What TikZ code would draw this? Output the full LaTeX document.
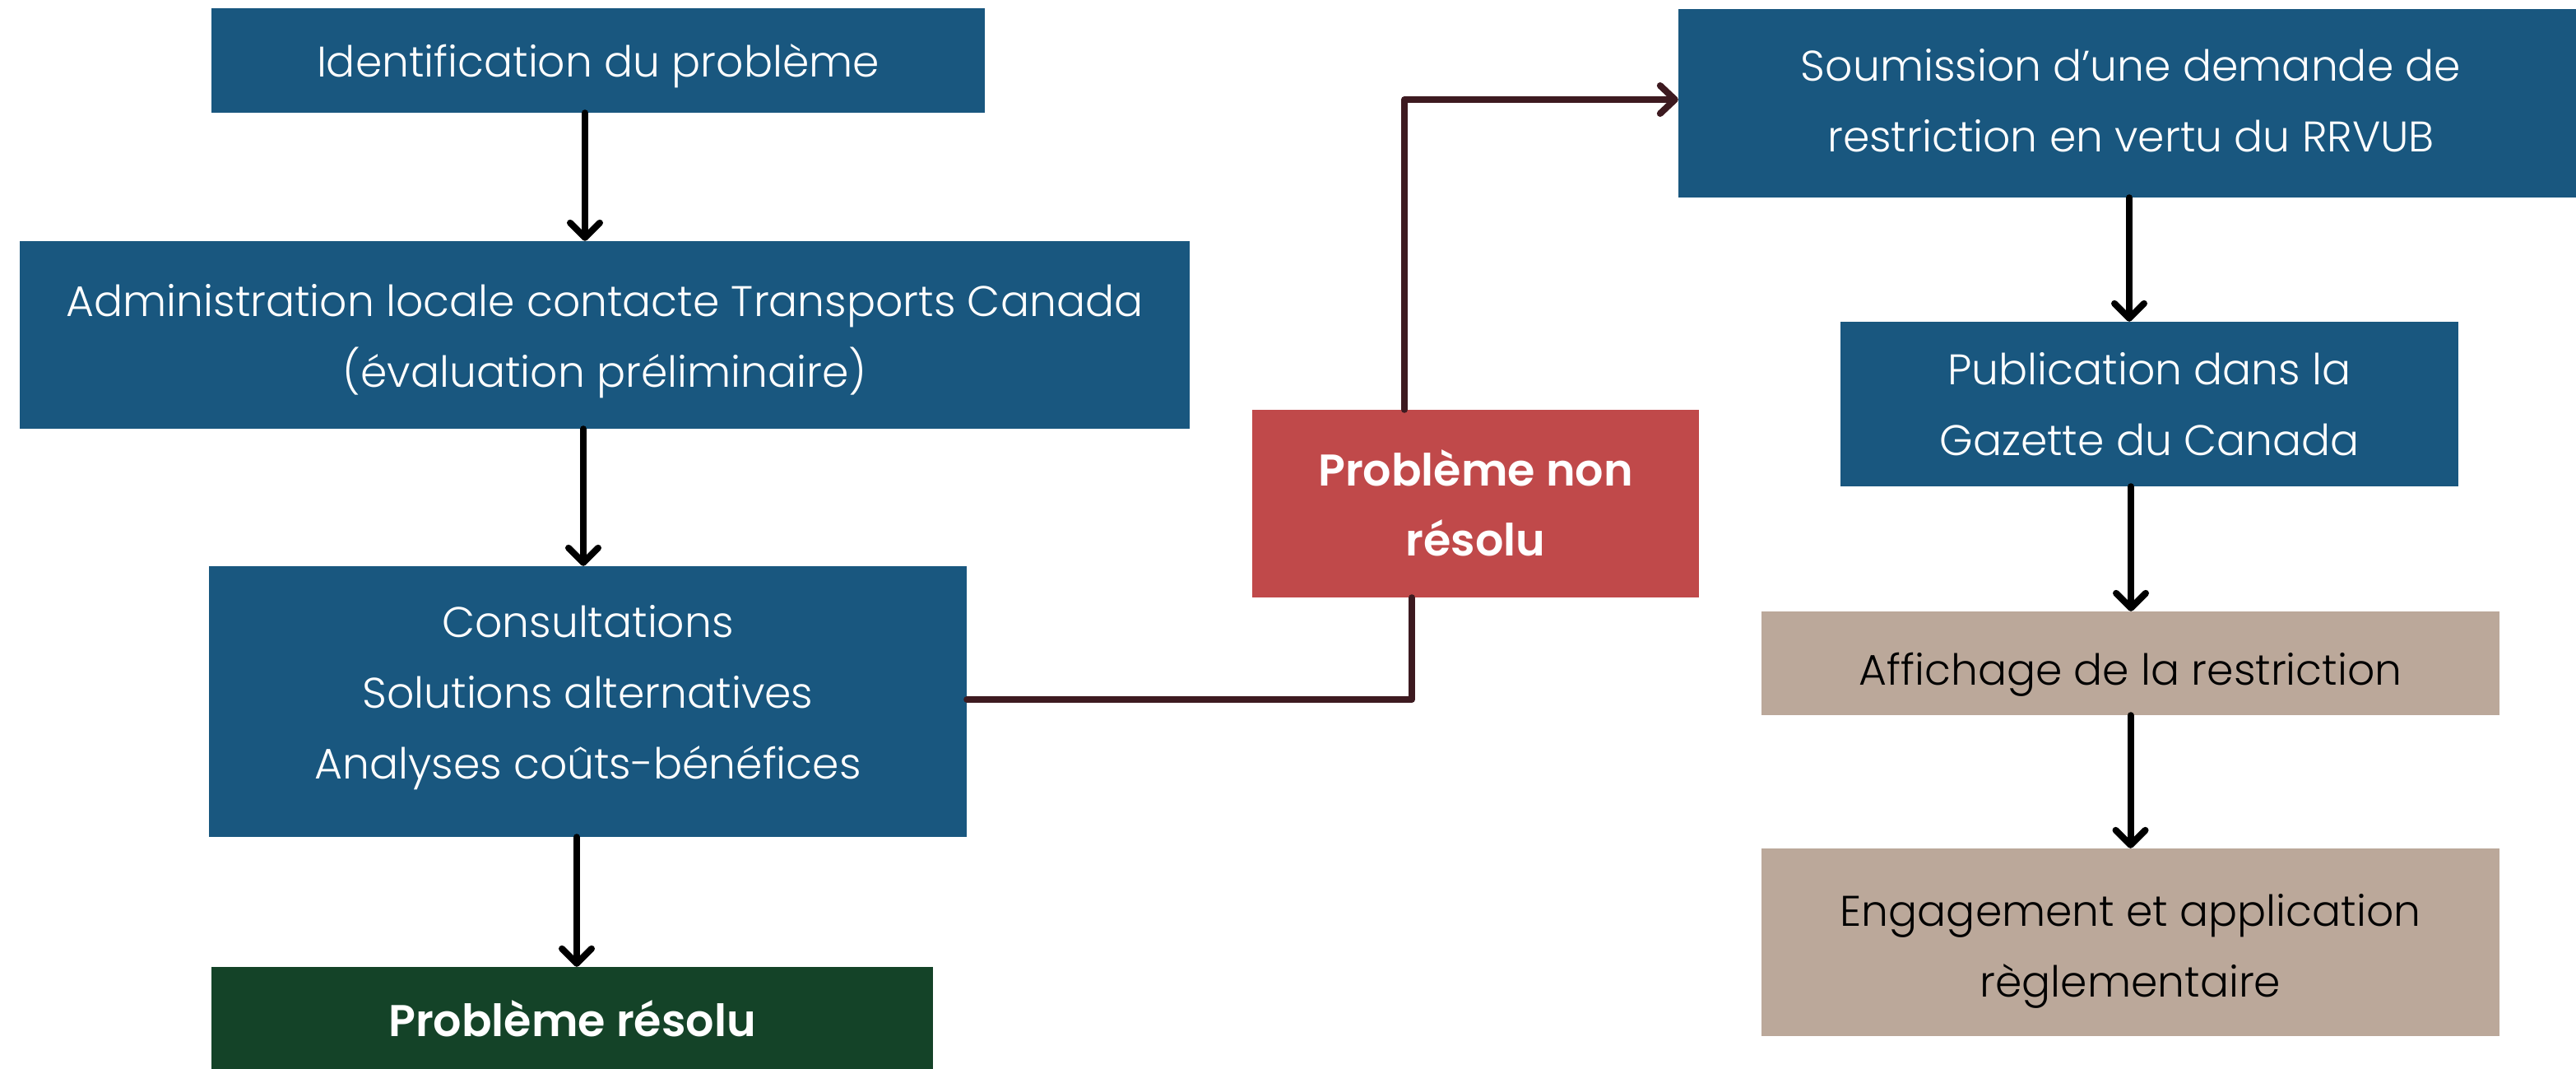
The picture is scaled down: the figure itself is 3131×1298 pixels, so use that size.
\documentclass[tikz,border=0pt]{standalone}
\usepackage{fontspec}
\setmainfont{Poppins}[UprightFont=* Light, BoldFont=* SemiBold]
\usetikzlibrary{arrows.meta}
\definecolor{cblue}{HTML}{19577F}
\definecolor{cred}{HTML}{C0494A}
\definecolor{cgreen}{HTML}{144328}
\definecolor{ctan}{HTML}{BBA89A}
\definecolor{cmaroon}{HTML}{3D1A20}
% text block whose first baseline sits #1 below the node centre
\newcommand\boxtext[2]{\raisebox{#1}[0pt][0pt]{\begin{tabular}[t]{@{}c@{}}#2\end{tabular}}}
\begin{document}
\begin{tikzpicture}[x=1pt,y=-1pt,
  box/.style={rectangle, inner sep=0pt, font=\fontsize{52}{86}\selectfont},
  bluebox/.style={box, fill=cblue, text=white},
  tanbox/.style={box, fill=ctan, text=black},
  boldbox/.style={box, text=white, font=\fontsize{54}{85}\selectfont\bfseries},
  flow/.style={line width=8pt, line cap=round, black, -{Straight Barb[length=18pt,width=36pt,round]}},
  link/.style={line width=8pt, line cap=round, line join=round, cmaroon},
]
\useasboundingbox[fill=white] (0,0) rectangle (3131,1298);

\node[bluebox, minimum width=940pt, minimum height=127pt] (b1) at (727,73.5)
  {\boxtext{-20.5pt}{Identification du problème}};
\node[bluebox, minimum width=1422pt, minimum height=228pt] (b2) at (735,407)
  {\boxtext{23pt}{Administration locale contacte Transports Canada\\(évaluation préliminaire)}};
\node[bluebox, minimum width=921pt, minimum height=329pt] (b3) at (714.5,852.5)
  {\boxtext{78.5pt}{Consultations\\Solutions alternatives\\Analyses coûts-bénéfices}};
\node[boldbox, fill=cgreen, minimum width=877pt, minimum height=126pt] (b4) at (695.5,1238)
  {\boxtext{-21pt}{Problème résolu}};
\node[boldbox, fill=cred, minimum width=543pt, minimum height=228pt] (red) at (1793.5,612)
  {\boxtext{22pt}{Problème non\\résolu}};
\node[bluebox, minimum width=1100pt, minimum height=229pt] (b5) at (2590,125.5)
  {\boxtext{27.5pt}{Soumission d’une demande de\\restriction en vertu du RRVUB}};
\node[bluebox, minimum width=751pt, minimum height=200pt] (b6) at (2612.5,491)
  {\boxtext{24pt}{Publication dans la\\Gazette du Canada}};
\node[tanbox, minimum width=897pt, minimum height=126pt] (b7) at (2589.5,806)
  {\boxtext{-26pt}{Affichage de la restriction}};
\node[tanbox, minimum width=897pt, minimum height=228pt] (b8) at (2589.5,1145)
  {\boxtext{20pt}{Engagement et application\\règlementaire}};

\draw[flow] ([xshift=-16pt]b1.south) -- ([xshift=-24pt]b2.north);
\draw[flow] ([xshift=-26pt]b2.south) -- ([xshift=-5.5pt]b3.north);
\draw[flow] ([xshift=-13.5pt]b3.south) -- ([xshift=5.5pt]b4.north);
\draw[flow] ([xshift=-2pt]b5.south) -- ([xshift=-24.5pt]b6.north);
\draw[flow] ([xshift=-22.5pt]b6.south) -- ([xshift=0.5pt]b7.north);
\draw[flow] (b7.south) -- (b8.north);

\coordinate (j1) at (1716,850);
\coordinate (j2) at (1707,121);
\draw[link] (b3.east |- j1) -- (j1) -- (j1 |- red.south);
\draw[link, -{Straight Barb[length=18pt,width=34pt,round]}] (j2 |- red.north) -- (j2) -- (b5.west |- j2);
\end{tikzpicture}
\end{document}
